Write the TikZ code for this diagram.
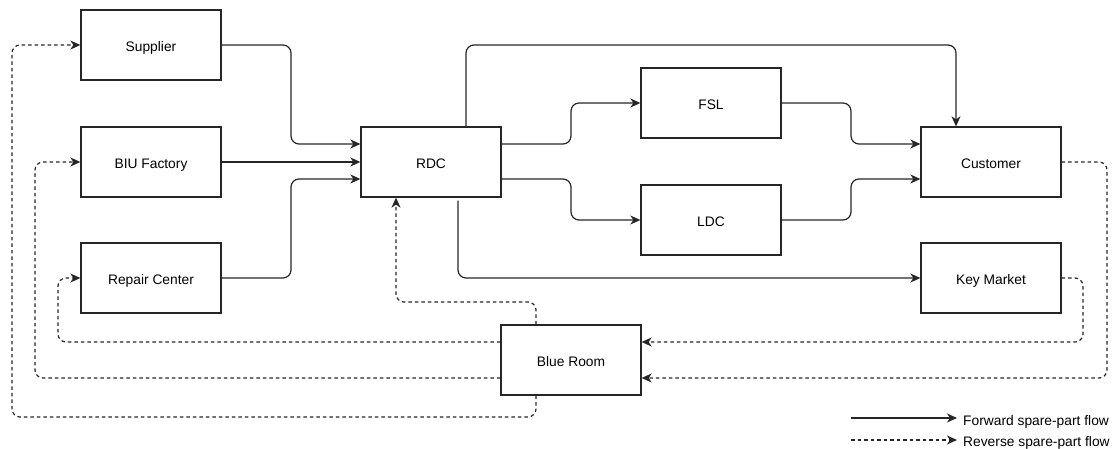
\documentclass[tikz,border=0pt]{standalone}
\usepackage{fontspec}
\setmainfont{Liberation Sans}
\usetikzlibrary{arrows.meta,calc}
\begin{document}
\begin{tikzpicture}[x=1pt,y=-1pt,
  box/.style={draw=black!85,line width=1.3pt,minimum width=140pt,minimum height=70pt,inner sep=0pt,text height=12.9pt,text depth=0pt,font=\fontsize{13.8}{16}\selectfont},
  fwd/.style={draw=black!85,line width=1.2pt,rounded corners=8pt,-{Stealth[length=10pt,width=9pt,inset=3pt]}},
  rev/.style={fwd,dash pattern=on 3.5pt off 3pt},
  legtext/.style={anchor=west,inner sep=0pt,text height=12.9pt,text depth=0pt,font=\fontsize{13.8}{16}\selectfont}]
\useasboundingbox (0,0) rectangle (1114,449);
\node[box] (sup) at (151,45) {Supplier};
\node[box] (biu) at (151,162) {BIU Factory};
\node[box] (rep) at (151,278) {Repair Center};
\node[box] (rdc) at (431,162) {RDC};
\node[box] (fsl) at (711,103) {FSL};
\node[box] (ldc) at (711,220) {LDC};
\node[box] (cust) at (991,162) {Customer};
\node[box] (km) at (991,278) {Key Market};
\node[box] (blue) at (571,360) {Blue Room};
% forward flows
\draw[fwd] (sup.east) -| (291,144) -- ($(rdc.west)+(0,-18)$);
\draw[fwd] (biu.east) -- (rdc.west);
\draw[fwd] (rep.east) -| (291,179) -- ($(rdc.west)+(0,17)$);
\draw[fwd] ($(rdc.north)+(35,0)$) |- (956,45) -- ($(cust.north)+(-35,0)$);
\draw[fwd] ($(rdc.east)+(0,-18)$) -| (571,103) -- (fsl.west);
\draw[fwd] ($(rdc.east)+(0,17)$) -| (571,220) -- (ldc.west);
\draw[fwd] ($(rdc.south)+(27,3)$) |- (km.west);
\draw[fwd] (fsl.east) -| (851,144) -- ($(cust.west)+(0,-18)$);
\draw[fwd] (ldc.east) -| (851,179) -- ($(cust.west)+(0,17)$);
% reverse flows
\draw[rev] (cust.east) -| (1107,378) -- ($(blue.east)+(0,18)$);
\draw[rev] (km.east) -| (1083,342) -- ($(blue.east)+(0,-18)$);
\draw[rev] ($(blue.west)+(0,-18)$) -| (58,278) -- (rep.west);
\draw[rev] ($(blue.west)+(0,18)$) -| (35,162) -- (biu.west);
\draw[rev] ($(blue.south)+(-35,0)$) |- (12,417) |- (sup.west);
\draw[rev] ($(blue.north)+(-35,0)$) |- (396,302) -- ($(rdc.south)+(-35,0)$);
% legend
\coordinate (l1a) at (851,418);
\coordinate (l1b) at (957,418);
\coordinate (l2a) at (851,440);
\coordinate (l2b) at (957,440);
\draw[fwd] (l1a) -- (l1b);
\draw[rev] (l2a) -- (l2b);
\node[legtext] (t1) at (963,419) {Forward spare-part flow};
\node[legtext] (t2) at (963,440.5) {Reverse spare-part flow};
\end{tikzpicture}
\end{document}
